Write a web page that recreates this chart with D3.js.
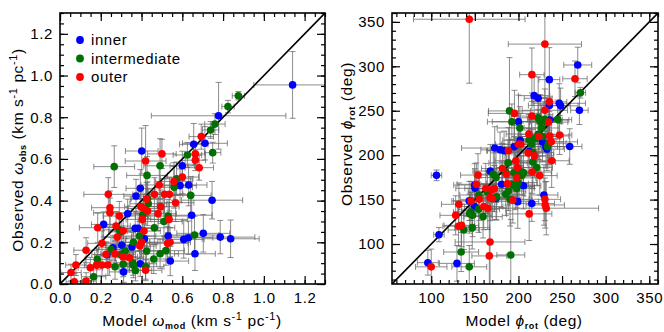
<!DOCTYPE html>
<html><head><meta charset="utf-8">
<script src="https://cdn.jsdelivr.net/npm/d3@7"></script>
<style>
body{margin:0;background:#fff;}
text{font-family:"Liberation Sans",Arial,sans-serif;fill:#000;}
</style></head><body>
<svg id="c" width="664" height="332"></svg>
<script>
// ---- data: [x, y, xerr, yerr] ----
const leftInner = [[1.141,0.955,0.19,0.16],[0.778,0.807,0.33,0.16],[0.656,0.670,0.07,0.10],[0.711,0.675,0.11,0.08],[0.401,0.638,0.08,0.11],[0.600,0.567,0.06,0.07],[0.589,0.472,0.08,0.08],[0.631,0.475,0.09,0.10],[0.394,0.459,0.07,0.09],[0.373,0.422,0.06,0.08],[0.746,0.402,0.15,0.09],[0.332,0.337,0.08,0.07],[0.646,0.330,0.10,0.10],[0.214,0.286,0.06,0.06],[0.369,0.267,0.10,0.08],[0.383,0.267,0.07,0.07],[0.414,0.217,0.09,0.07],[0.531,0.230,0.12,0.08],[0.607,0.214,0.10,0.09],[0.630,0.222,0.12,0.08],[0.703,0.243,0.13,0.09],[0.786,0.225,0.17,0.08],[0.837,0.217,0.14,0.09],[0.353,0.178,0.09,0.07],[0.260,0.174,0.07,0.06],[0.303,0.186,0.08,0.06],[0.230,0.140,0.06,0.06],[0.662,0.145,0.10,0.08],[0.394,0.097,0.08,0.06],[0.541,0.110,0.09,0.07],[0.312,0.058,0.07,0.05]];
const leftIntermediate = [[0.875,0.903,0.03,0.02],[0.824,0.851,0.03,0.03],[0.760,0.767,0.05,0.05],[0.739,0.739,0.04,0.04],[0.749,0.630,0.04,0.05],[0.625,0.619,0.07,0.06],[0.491,0.567,0.08,0.13],[0.266,0.563,0.10,0.10],[0.427,0.521,0.10,0.09],[0.572,0.505,0.08,0.08],[0.560,0.464,0.09,0.10],[0.641,0.425,0.10,0.09],[0.430,0.410,0.08,0.08],[0.433,0.385,0.09,0.07],[0.406,0.331,0.08,0.08],[0.530,0.326,0.10,0.08],[0.510,0.300,0.09,0.07],[0.290,0.260,0.08,0.07],[0.463,0.270,0.10,0.08],[0.300,0.250,0.06,0.06],[0.390,0.230,0.08,0.07],[0.660,0.235,0.12,0.09],[0.250,0.165,0.07,0.06],[0.360,0.200,0.08,0.07],[0.425,0.158,0.08,0.07],[0.320,0.158,0.07,0.06],[0.300,0.142,0.07,0.06],[0.491,0.145,0.09,0.07],[0.520,0.160,0.09,0.07],[0.460,0.120,0.09,0.07],[0.183,0.118,0.06,0.05],[0.270,0.083,0.07,0.06],[0.310,0.095,0.07,0.06],[0.357,0.102,0.08,0.06],[0.360,0.090,0.08,0.06],[0.420,0.083,0.09,0.06],[0.370,0.065,0.08,0.05],[0.165,0.035,0.06,0.05]];
const leftOuter = [[0.693,0.707,0.06,0.06],[0.664,0.624,0.05,0.05],[0.664,0.594,0.05,0.05],[0.500,0.624,0.07,0.07],[0.420,0.590,0.10,0.17],[0.683,0.558,0.07,0.06],[0.600,0.513,0.08,0.08],[0.559,0.492,0.09,0.09],[0.487,0.475,0.09,0.09],[0.463,0.430,0.08,0.08],[0.513,0.430,0.09,0.09],[0.537,0.430,0.10,0.08],[0.237,0.430,0.12,0.08],[0.425,0.406,0.08,0.08],[0.397,0.371,0.08,0.07],[0.494,0.371,0.09,0.08],[0.567,0.390,0.09,0.09],[0.245,0.366,0.09,0.08],[0.410,0.362,0.08,0.07],[0.245,0.342,0.08,0.07],[0.430,0.350,0.08,0.07],[0.481,0.337,0.09,0.08],[0.291,0.326,0.08,0.07],[0.535,0.310,0.09,0.08],[0.404,0.310,0.08,0.07],[0.185,0.270,0.09,0.07],[0.275,0.278,0.07,0.07],[0.412,0.254,0.08,0.07],[0.310,0.255,0.07,0.06],[0.281,0.225,0.07,0.06],[0.528,0.195,0.10,0.08],[0.540,0.200,0.10,0.07],[0.400,0.200,0.08,0.07],[0.392,0.182,0.08,0.06],[0.206,0.195,0.07,0.06],[0.128,0.162,0.06,0.06],[0.270,0.145,0.07,0.06],[0.226,0.142,0.07,0.06],[0.310,0.130,0.07,0.06],[0.340,0.126,0.07,0.06],[0.206,0.091,0.06,0.05],[0.235,0.091,0.07,0.05],[0.180,0.090,0.06,0.05],[0.149,0.078,0.06,0.05],[0.078,0.091,0.05,0.05],[0.054,0.055,0.05,0.04],[0.420,0.066,0.08,0.05],[0.070,0.010,0.04,0.04],[0.128,0.014,0.05,0.04]];

const rightInner = [[268,301.5,16,20],[235.4,285,12,36],[218,267,18,22],[222.6,264,16,24],[246.8,258.4,30,22],[248.3,255.5,20,20],[235.4,256,24,28],[269.9,250.5,10,16],[200,237.6,30,30],[235.8,239.5,22,26],[202,216.7,20,30],[227.6,215,24,22],[172.8,208,38,24],[178.9,206,22,20],[183.5,205,20,22],[195,209.5,24,24],[231.5,209.5,26,24],[258.8,209.7,14,20],[232.7,206.8,20,24],[212.3,204,22,26],[106,177.3,6,6],[167.8,182.1,20,30],[198.8,179.3,22,28],[205.7,165.5,20,26],[149.8,166.4,24,24],[150.2,162.7,22,22],[180.8,167.2,24,26],[174.3,151.4,20,24],[199.2,147.7,24,30],[143.6,148.5,20,22],[149.8,142.1,18,24],[229.2,155.2,16,34],[215.3,145.5,26,20],[108.8,110.5,6,8],[96.1,79,12,14],[129.5,78.2,20,20]];
const rightIntermediate = [[271,270.3,6,6],[189.7,249.8,24,60],[192.4,237.6,28,20],[222.6,242,24,26],[230.3,240,20,24],[231.5,237.6,18,22],[225,238,22,30],[245,240,16,22],[201.6,230.6,26,24],[226.5,230.6,20,26],[222.6,223.4,22,28],[227.6,221,24,22],[212.3,217,22,26],[219.2,218.8,24,24],[215,212.3,22,26],[234.6,213.4,20,24],[233.4,209.7,18,22],[216.5,203,24,26],[216.5,192.3,26,30],[188.1,191.3,22,26],[171.2,178.6,22,24],[174.3,174.8,24,28],[185.4,180.3,22,24],[195,180.3,24,26],[200.8,182,22,30],[205.7,180.3,20,26],[203.8,177,22,22],[221,186,18,20],[199.6,169.2,22,24],[192.4,167.4,24,22],[196.3,164.7,22,26],[198.1,162.5,20,22],[164.4,158.6,22,24],[175,153,24,26],[185.4,156,22,24],[188.5,159.6,20,22],[190.4,150.3,24,30],[154.7,155.2,22,24],[154.3,139.1,24,26],[145.5,136.1,20,22],[147.4,132.3,22,24],[144,134.2,18,22],[159.4,130.8,22,24],[137.4,115.8,18,22],[147,118.4,20,24],[134.3,91,20,22],[191.2,87.7,16,40],[143.6,74.3,20,24]];
const rightOuter = [[143.6,353,64,72],[230.3,325,42,60],[264.8,286,14,20],[215.4,290.6,14,30],[235.4,260,20,26],[230.3,250.5,26,24],[195.4,247,30,26],[215.4,244,24,26],[234.6,237.2,22,24],[211.9,223.8,26,22],[247.2,222.7,14,22],[235.8,221.6,22,24],[223.4,221,24,26],[237.7,215,30,22],[199.8,212.3,26,28],[202.8,212.3,22,24],[188.5,205,24,26],[211.1,202.3,26,26],[218.4,199.3,22,24],[238.1,193.7,20,30],[197,193.7,24,26],[153.6,177.6,20,24],[181.6,185,24,28],[186.2,178.6,22,26],[198.8,186,24,22],[215.7,181,22,24],[224.4,177,20,22],[198,174.4,22,26],[151.7,167.2,22,24],[162.5,162.7,24,28],[169.3,160.8,22,24],[172.4,162.4,22,26],[187.4,167.9,24,24],[167.4,152.2,22,26],[170.1,151.1,20,24],[193.5,149.6,22,26],[155.1,150.3,22,24],[145.5,148.5,20,22],[160.2,142.1,22,26],[164.8,140.3,22,24],[131.7,144.7,20,24],[128,132.3,18,22],[230.3,150.3,18,24],[230.7,144,22,26],[231.9,140.3,60,30],[212.3,133.9,26,30],[131.3,120,18,22],[134.7,121,20,24],[167.4,102.3,40,60],[166.6,86.6,20,60],[100,74.3,18,20]];

const groupNames = ["inner","intermediate","outer"];
const groupColors = ["#0000ff","#007000","#ff0000"];
const leftTicks = [0.0,0.2,0.4,0.6,0.8,1.0,1.2];
const rightTicks = [100,150,200,250,300,350];

const svg = d3.select("#c");
const FONT = '"Liberation Sans",Arial,sans-serif';

function panel(id, xDom, yDom, xRange, yRange, majors, minorStep, fmt, groups){
  const x = d3.scaleLinear().domain(xDom).range(xRange);
  const y = d3.scaleLinear().domain(yDom).range(yRange);
  const g = svg.append("g");
  const clipId = "clip"+id;
  svg.append("clipPath").attr("id",clipId).append("rect")
    .attr("x",xRange[0]).attr("y",yRange[1]).attr("width",xRange[1]-xRange[0]).attr("height",yRange[0]-yRange[1]);
  const plot = g.append("g").attr("clip-path",`url(#${clipId})`);
  const cap = 3;
  groups.forEach(data=>{
    const eb = plot.append("g").attr("stroke","#666").attr("stroke-width",1).attr("stroke-opacity",0.75).attr("fill","none");
    data.forEach(d=>{
      const cx=x(d[0]), cy=y(d[1]);
      const x0=x(d[0]-d[2]), x1=x(d[0]+d[2]), y0=y(d[1]-d[3]), y1=y(d[1]+d[3]);
      eb.append("path").attr("d",
        `M${x0},${cy}H${x1}M${x0},${cy-cap}V${cy+cap}M${x1},${cy-cap}V${cy+cap}`+
        `M${cx},${y0}V${y1}M${cx-cap},${y0}H${cx+cap}M${cx-cap},${y1}H${cx+cap}`);
    });
  });
  const lo = Math.min(xDom[0],yDom[0]), hi = Math.max(xDom[1],yDom[1]);
  plot.append("line").attr("x1",x(lo)).attr("y1",y(lo)).attr("x2",x(hi)).attr("y2",y(hi))
    .attr("stroke","#000").attr("stroke-width",1.6);
  groups.forEach((data,i)=>{
    plot.append("g").selectAll("circle").data(data).join("circle")
      .attr("cx",d=>x(d[0])).attr("cy",d=>y(d[1])).attr("r",3.8).attr("fill",groupColors[i]);
  });
  const minorsX = d3.range(Math.ceil(xDom[0]/minorStep)*minorStep, xDom[1]+1e-9, minorStep);
  const minorsY = d3.range(Math.ceil(yDom[0]/minorStep)*minorStep, yDom[1]+1e-9, minorStep);
  const addAxis = (axis, tr)=>{
    const a = g.append("g").attr("transform",tr).call(axis);
    a.select(".domain").remove();
    a.selectAll("line").attr("stroke","#000").attr("stroke-width",1.2);
    a.selectAll("text").style("font-family",FONT).style("font-size","15px").style("letter-spacing","0.6px").attr("fill","#000");
    return a;
  };
  addAxis(d3.axisBottom(x).tickValues(majors).tickSize(-8).tickPadding(8).tickFormat(fmt), `translate(0,${yRange[0]})`);
  addAxis(d3.axisBottom(x).tickValues(minorsX).tickSize(-4).tickFormat(""), `translate(0,${yRange[0]})`);
  addAxis(d3.axisTop(x).tickValues(majors).tickSize(-8).tickFormat(""), `translate(0,${yRange[1]})`);
  addAxis(d3.axisTop(x).tickValues(minorsX).tickSize(-4).tickFormat(""), `translate(0,${yRange[1]})`);
  addAxis(d3.axisLeft(y).tickValues(majors).tickSize(-8).tickPadding(7).tickFormat(fmt), `translate(${xRange[0]},0)`);
  addAxis(d3.axisLeft(y).tickValues(minorsY).tickSize(-4).tickFormat(""), `translate(${xRange[0]},0)`);
  addAxis(d3.axisRight(y).tickValues(majors).tickSize(-8).tickFormat(""), `translate(${xRange[1]},0)`);
  addAxis(d3.axisRight(y).tickValues(minorsY).tickSize(-4).tickFormat(""), `translate(${xRange[1]},0)`);
  g.append("rect").attr("x",xRange[0]).attr("y",yRange[1]).attr("width",xRange[1]-xRange[0]).attr("height",yRange[0]-yRange[1])
    .attr("fill","none").attr("stroke","#000").attr("stroke-width",1.6);
  return {x,y,g};
}

panel("L",[0,1.3],[0,1.3],[60,325],[284,13],leftTicks,0.05,d3.format(".1f"),[leftInner,leftIntermediate,leftOuter]);
panel("R",[55,360],[55,360],[392,658],[284,13],rightTicks,10,d3.format("d"),[rightInner,rightIntermediate,rightOuter]);

// legend
groupNames.forEach((n,i)=>{
  svg.append("circle").attr("cx",80).attr("cy",40+i*18.5).attr("r",3.9).attr("fill",groupColors[i]);
  svg.append("text").attr("x",91).attr("y",40+i*18.5).attr("dy","0.35em")
    .style("font-size","15px").style("letter-spacing","0.6px").text(n);
});

// axis titles
function title(x,y,rot,parts){
  const t = svg.append("text").attr("text-anchor","middle").style("font-size","15.5px").style("letter-spacing","0.6px")
    .attr("transform",`translate(${x},${y}) rotate(${rot})`);
  parts.forEach(p=>{
    const ts = t.append("tspan").text(p[0]);
    if(p[1]==="sub"){ts.style("font-size","9px").style("font-weight","bold").attr("baseline-shift","-3");}
    if(p[1]==="sup"){ts.style("font-size","11px").attr("baseline-shift","6");}
    if(p[1]==="it"){ts.style("font-style","italic");}
  });
}
title(192,326,0,[["Model "],["ω","it"],["mod","sub"],[" (km s"],["-1","sup"],["  pc"],["-1","sup"],[")"]]);
title(23,150,-90,[["Observed "],["ω","it"],["obs","sub"],[" (km s"],["-1","sup"],["  pc"],["-1","sup"],[")"]]);
title(524,326,0,[["Model "],["ϕ","it"],["rot","sub"],[" (deg)"]]);
title(352,134,-90,[["Observed "],["ϕ","it"],["rot","sub"],[" (deg)"]]);
</script>
</body></html>
